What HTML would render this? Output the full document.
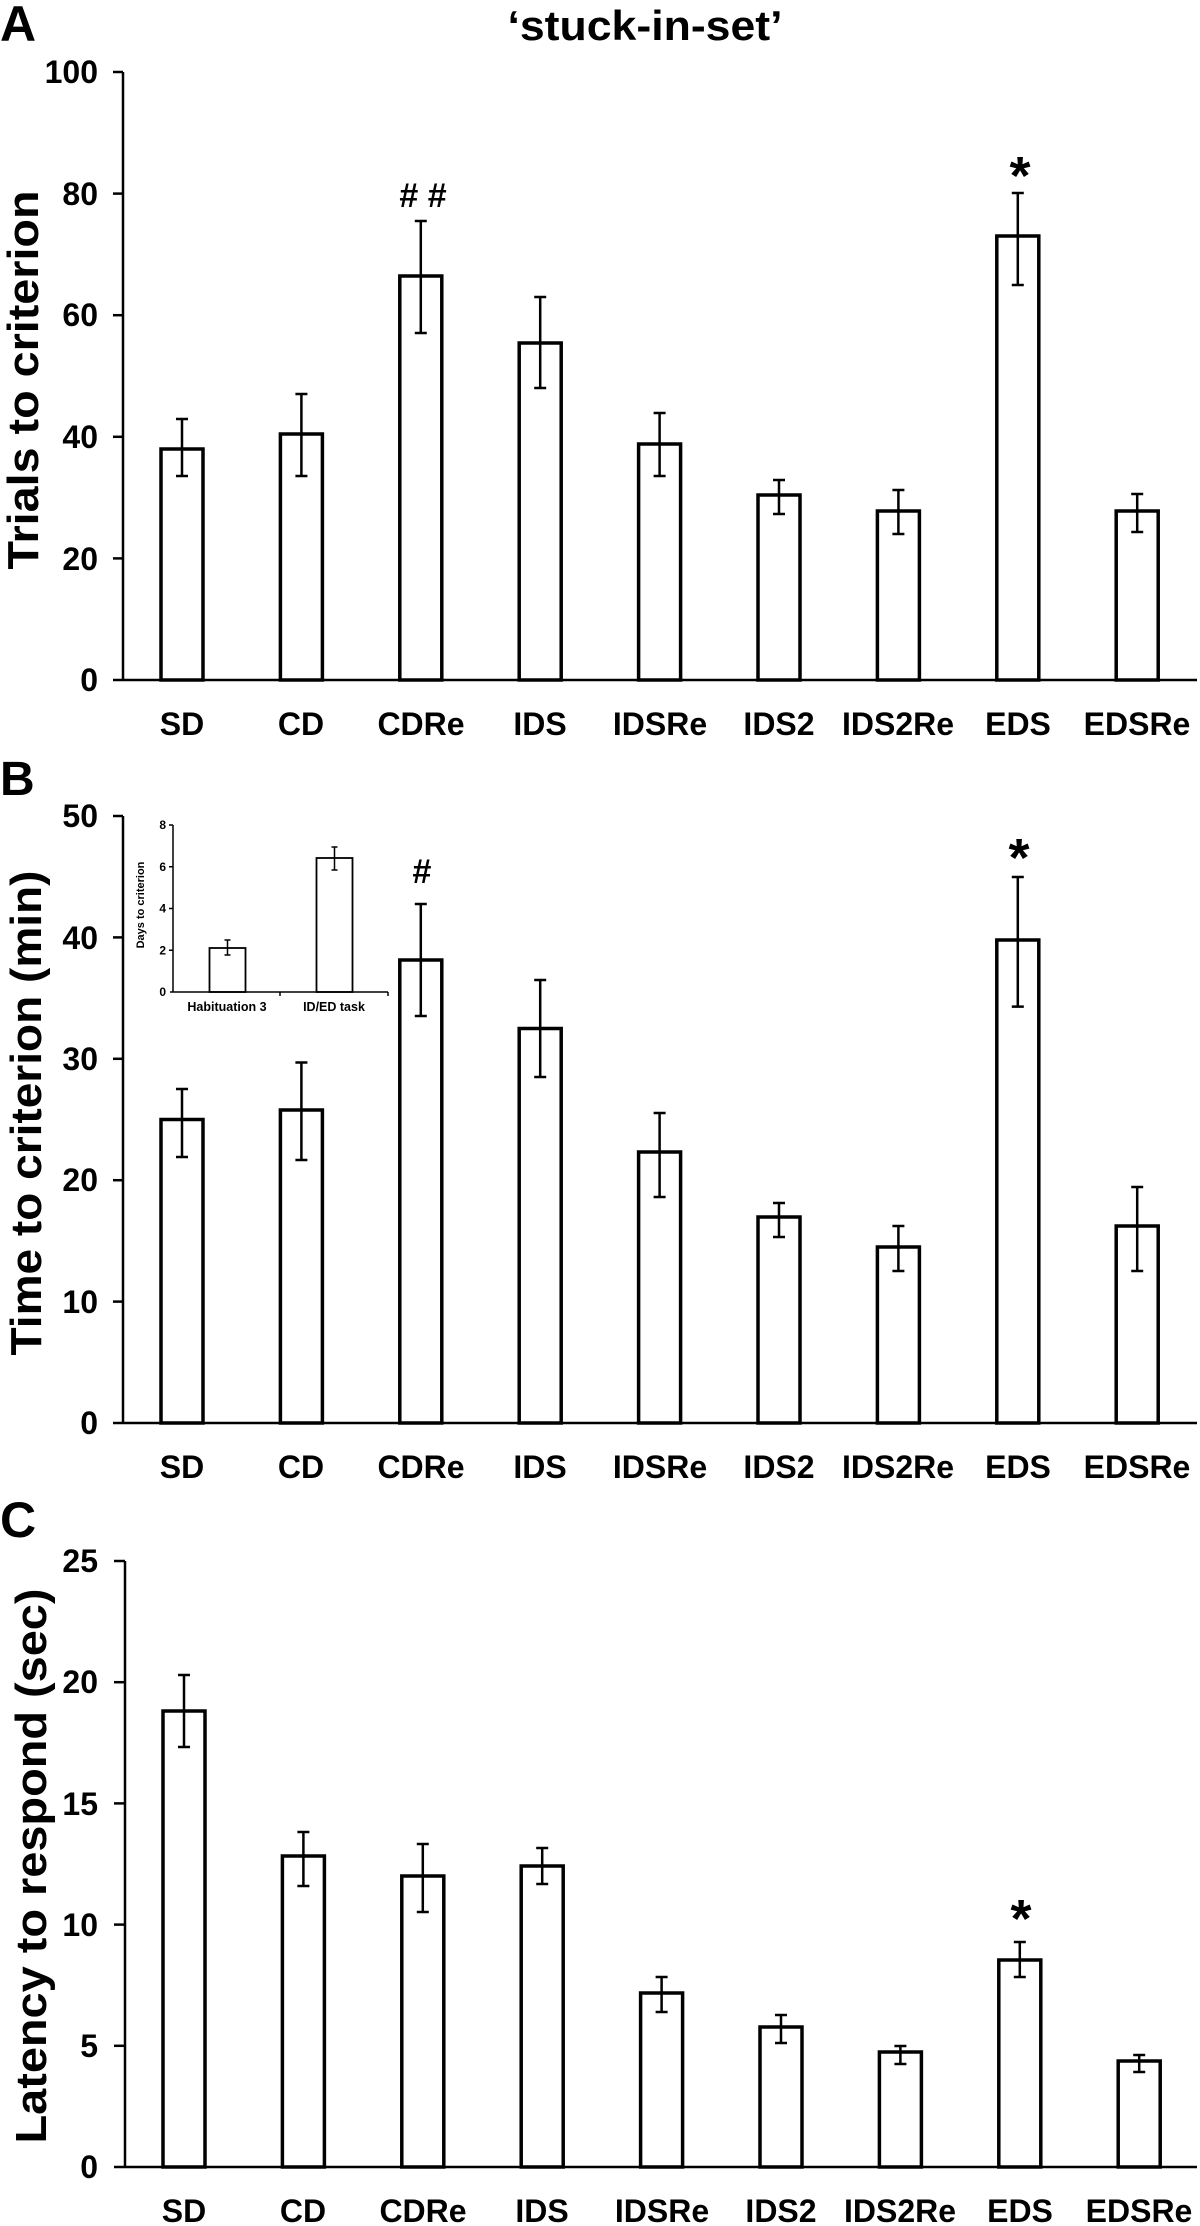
<!DOCTYPE html>
<html><head><meta charset="utf-8"><style>
html,body{margin:0;padding:0;background:#fff}
svg{display:block}
text{font-family:"Liberation Sans",Arial,sans-serif;font-weight:bold;fill:#000}
</style></head><body>
<svg width="1200" height="2226" viewBox="0 0 1200 2226" xmlns="http://www.w3.org/2000/svg">
<g stroke="#000" fill="none">
<line x1="123" y1="72" x2="123" y2="680" stroke-width="2.5"/>
<line x1="113" y1="680" x2="1197" y2="680" stroke-width="2.5"/>
<g stroke-width="2.5"><line x1="113" y1="72" x2="123" y2="72"/><line x1="113" y1="193.6" x2="123" y2="193.6"/><line x1="113" y1="315.2" x2="123" y2="315.2"/><line x1="113" y1="436.8" x2="123" y2="436.8"/><line x1="113" y1="558.4" x2="123" y2="558.4"/></g>
<line x1="123" y1="816" x2="123" y2="1423" stroke-width="2.5"/>
<line x1="113" y1="1423" x2="1197" y2="1423" stroke-width="2.5"/>
<g stroke-width="2.5"><line x1="113" y1="816" x2="123" y2="816"/><line x1="113" y1="937.4" x2="123" y2="937.4"/><line x1="113" y1="1058.8" x2="123" y2="1058.8"/><line x1="113" y1="1180.2" x2="123" y2="1180.2"/><line x1="113" y1="1301.6" x2="123" y2="1301.6"/></g>
<line x1="125" y1="1561" x2="125" y2="2167" stroke-width="2.5"/>
<line x1="114" y1="2167" x2="1197" y2="2167" stroke-width="2.5"/>
<g stroke-width="2.5"><line x1="114" y1="1561" x2="125" y2="1561"/><line x1="114" y1="1682.2" x2="125" y2="1682.2"/><line x1="114" y1="1803.4" x2="125" y2="1803.4"/><line x1="114" y1="1924.6" x2="125" y2="1924.6"/><line x1="114" y1="2045.8" x2="125" y2="2045.8"/></g>

<g stroke-width="3.5">
<rect x="161" y="449" width="42" height="231"/>
<rect x="280.4" y="434" width="42" height="246"/>
<rect x="399.8" y="276" width="42" height="404"/>
<rect x="519.2" y="343" width="42" height="337"/>
<rect x="638.6" y="444" width="42" height="236"/>
<rect x="758" y="495" width="42" height="185"/>
<rect x="877.4" y="511" width="42" height="169"/>
<rect x="996.8" y="236" width="42" height="444"/>
<rect x="1116.2" y="511" width="42" height="169"/>
</g>
<path stroke-width="2.5" d="M182 476V419M176 476h12M176 419h12
M301.4 476V394M295.4 476h12M295.4 394h12
M420.8 333V221M414.8 333h12M414.8 221h12
M540.2 388V297M534.2 388h12M534.2 297h12
M659.6 476V413M653.6 476h12M653.6 413h12
M779 514V480M773 514h12M773 480h12
M898.4 534V490M892.4 534h12M892.4 490h12
M1017.8 285V193M1011.8 285h12M1011.8 193h12
M1137.2 532V494M1131.2 532h12M1131.2 494h12"/>

<g stroke-width="3.5">
<rect x="161" y="1119.5" width="42" height="303.5"/>
<rect x="280.4" y="1110" width="42" height="313"/>
<rect x="399.8" y="960" width="42" height="463"/>
<rect x="519.2" y="1028.5" width="42" height="394.5"/>
<rect x="638.6" y="1152" width="42" height="271"/>
<rect x="758" y="1217" width="42" height="206"/>
<rect x="877.4" y="1247" width="42" height="176"/>
<rect x="996.8" y="940" width="42" height="483"/>
<rect x="1116.2" y="1226" width="42" height="197"/>
</g>
<path stroke-width="2.5" d="M182 1157V1089M176 1157h12M176 1089h12
M301.4 1160V1062.5M295.4 1160h12M295.4 1062.5h12
M420.8 1016V904M414.8 1016h12M414.8 904h12
M540.2 1077V980M534.2 1077h12M534.2 980h12
M659.6 1197V1113M653.6 1197h12M653.6 1113h12
M779 1237V1203M773 1237h12M773 1203h12
M898.4 1271V1226M892.4 1271h12M892.4 1226h12
M1017.8 1006.6V877M1011.8 1006.6h12M1011.8 877h12
M1137.2 1271V1187M1131.2 1271h12M1131.2 1187h12"/>

<g stroke-width="3.5">
<rect x="163" y="1711" width="42" height="456"/>
<rect x="282.4" y="1856" width="42" height="311"/>
<rect x="401.8" y="1876" width="42" height="291"/>
<rect x="521.2" y="1866" width="42" height="301"/>
<rect x="640.6" y="1993" width="42" height="174"/>
<rect x="760" y="2027" width="42" height="140"/>
<rect x="879.4" y="2052" width="42" height="115"/>
<rect x="998.8" y="1960" width="42" height="207"/>
<rect x="1118.2" y="2061" width="42" height="106"/>
</g>
<path stroke-width="2.5" d="M184 1747V1675M178 1747h12M178 1675h12
M303.4 1886V1832M297.4 1886h12M297.4 1832h12
M422.8 1912V1844M416.8 1912h12M416.8 1844h12
M542.2 1884V1848M536.2 1884h12M536.2 1848h12
M661.6 2012V1977M655.6 2012h12M655.6 1977h12
M781 2043V2015M775 2043h12M775 2015h12
M900.4 2064V2046M894.4 2064h12M894.4 2046h12
M1019.8 1977V1942M1013.8 1977h12M1013.8 1942h12
M1139.2 2072V2055M1133.2 2072h12M1133.2 2055h12"/>

<line x1="173" y1="825" x2="173" y2="992" stroke-width="1.5"/>
<line x1="170" y1="992" x2="388" y2="992" stroke-width="1.5"/>
<path stroke-width="1.5" d="M169 825h4M169 866.8h4M169 908.5h4M169 950.3h4M280 992v4M388 992v4"/>
<rect x="209.5" y="948" width="36" height="44" stroke-width="1.8"/>
<rect x="316.5" y="858" width="36" height="134" stroke-width="1.8"/>
<path stroke-width="1.5" d="M227.5 955V940M224.5 955h6M224.5 940h6M334.5 870V847M331.5 870h6M331.5 847h6"/>
</g>

<g font-size="12" text-anchor="end">
<text x="166" y="829">8</text><text x="166" y="870.8">6</text><text x="166" y="912.5">4</text><text x="166" y="954.3">2</text><text x="166" y="996">0</text>
</g>
<text transform="translate(144,905) rotate(-90)" font-size="11" text-anchor="middle">Days to criterion</text>
<text x="227" y="1011" font-size="12.5" text-anchor="middle">Habituation 3</text>
<text x="334" y="1011" font-size="12.5" text-anchor="middle">ID/ED task</text>

<text x="645" y="40" font-size="42" text-anchor="middle" textLength="275" lengthAdjust="spacingAndGlyphs">‘stuck-in-set’</text>
<text x="0" y="41" font-size="50">A</text>
<text x="0" y="795" font-size="48">B</text>
<text x="0" y="1537" font-size="50">C</text>

<text transform="translate(38,380) rotate(-90)" font-size="44" text-anchor="middle" textLength="379" lengthAdjust="spacingAndGlyphs">Trials to criterion</text>
<text transform="translate(41,1113) rotate(-90)" font-size="44" text-anchor="middle" textLength="485" lengthAdjust="spacingAndGlyphs">Time to criterion (min)</text>
<text transform="translate(46,1866) rotate(-90)" font-size="44" text-anchor="middle" textLength="555" lengthAdjust="spacingAndGlyphs">Latency to respond (sec)</text>

<g font-size="32" text-anchor="end">
<text x="98" y="83">100</text><text x="98" y="205">80</text><text x="98" y="326">60</text><text x="98" y="448">40</text><text x="98" y="570">20</text><text x="98" y="691">0</text>
<text x="98" y="827">50</text><text x="98" y="949">40</text><text x="98" y="1070">30</text><text x="98" y="1191">20</text><text x="98" y="1313">10</text><text x="98" y="1434">0</text>
<text x="98" y="1572">25</text><text x="98" y="1693">20</text><text x="98" y="1815">15</text><text x="98" y="1936">10</text><text x="98" y="2057">5</text><text x="98" y="2178">0</text>
</g>

<g font-size="32" text-anchor="middle">
<text x="182" y="735">SD</text><text x="301" y="735">CD</text><text x="421" y="735">CDRe</text><text x="540" y="735">IDS</text><text x="660" y="735">IDSRe</text><text x="779" y="735">IDS2</text><text x="898" y="735">IDS2Re</text><text x="1018" y="735">EDS</text><text x="1137" y="735">EDSRe</text>
<text x="182" y="1478">SD</text><text x="301" y="1478">CD</text><text x="421" y="1478">CDRe</text><text x="540" y="1478">IDS</text><text x="660" y="1478">IDSRe</text><text x="779" y="1478">IDS2</text><text x="898" y="1478">IDS2Re</text><text x="1018" y="1478">EDS</text><text x="1137" y="1478">EDSRe</text>
<text x="184" y="2222">SD</text><text x="303" y="2222">CD</text><text x="423" y="2222">CDRe</text><text x="542" y="2222">IDS</text><text x="662" y="2222">IDSRe</text><text x="781" y="2222">IDS2</text><text x="900" y="2222">IDS2Re</text><text x="1020" y="2222">EDS</text><text x="1139" y="2222">EDSRe</text>
</g>

<text x="423" y="207" font-size="34" text-anchor="middle">#&#160;#</text>
<text x="422" y="883" font-size="34" text-anchor="middle">#</text>
<text x="1020" y="194" font-size="54" text-anchor="middle">*</text>
<text x="1019" y="876" font-size="54" text-anchor="middle">*</text>
<text x="1021" y="1937" font-size="54" text-anchor="middle">*</text>
</svg>
</body></html>
